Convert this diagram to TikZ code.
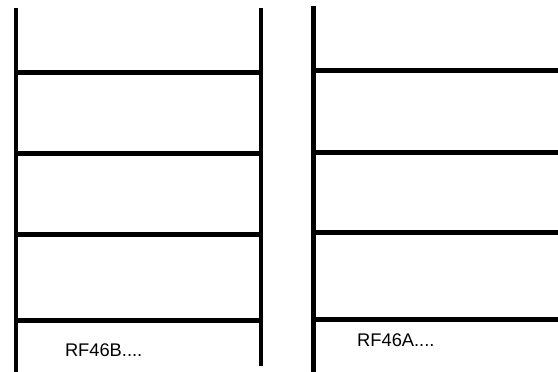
\documentclass[tikz,border=0pt]{standalone}
\usepackage{fontspec}
\setmainfont{Liberation Sans}
\begin{document}
\begin{tikzpicture}[x=1pt,y=-1pt,
  rail/.style={line width=4.2pt,black},
  rung/.style={line width=4.5pt,black},
  lbl/.style={inner sep=0pt,anchor=base west,font=\fontsize{18.3}{21}\selectfont}]
\useasboundingbox (0,0) rectangle (558,372);
% left ladder
\draw[rail] (15.7,8) -- (15.7,372);
\draw[rail] (261.3,8) -- (261.3,366);
\foreach \y in {72.3,153.7,234.3,320.7}
  \draw[rung] (15.7,\y) -- (261.3,\y);
% right ladder
\draw[rail] (313.5,6) -- (313.5,372);
\foreach \y in {70.7,152.3,232.3,319.3}
  \draw[rung] (313.5,\y) -- (558,\y);
\node[lbl] (b) at (64.8,356) {RF46B....};
\node[lbl] (a) at (357.0,346) {RF46A....};
\end{tikzpicture}
\end{document}
